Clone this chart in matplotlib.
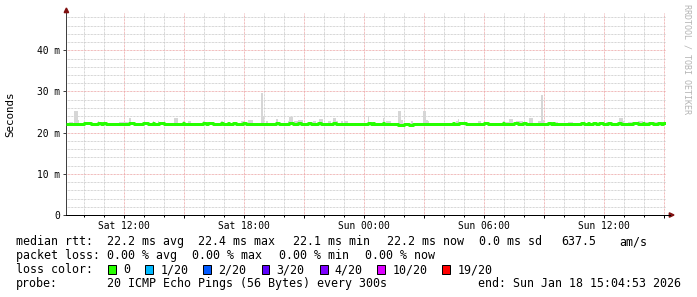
#!/usr/bin/env python3
# SmokePing style latency graph: median rtt (green = 0 loss) with smoke, 30 h at 300 s steps

import numpy as np
import pandas as pd
import matplotlib
matplotlib.use('Agg')
import matplotlib.pyplot as plt
import matplotlib.dates as mdates
from matplotlib.ticker import FixedLocator, MultipleLocator, FuncFormatter
from matplotlib.patches import Rectangle, Polygon
from matplotlib.lines import Line2D

plt.rcParams['font.family'] = ['DejaVu Sans Mono', 'DejaVu Sans']

# ---- values (milliseconds) ----
START = '2026-01-17 09:04:53'
N_STEPS = 360                      # 30 h of 5 min steps
median_base_ms = 22.2
median_high_ms = 22.4              # small green blips above the line
median_high_idx = [11, 12, 13, 14, 19, 20, 22, 23, 38, 39, 40, 46, 47, 48, 52, 56, 57, 58,
                   70, 82, 83, 85, 86, 87, 93, 97, 100, 101, 106, 107, 126, 127, 134, 135,
                   139, 140, 145, 146, 151, 152, 160, 161, 181, 182, 184, 190, 232, 236, 237,
                   238, 239, 251, 252, 262, 269, 270, 274, 275, 289, 290, 292, 309, 310, 313,
                   316, 317, 320, 321, 325, 326, 331, 332, 340, 341, 342, 346, 350, 351, 355,
                   356, 358, 359]
median_low_ms = 21.95
median_low_idx = [199, 200, 201, 202, 206, 207]

# smoke (max ping) per step, where it shows above the median line
smoke_idx = [2, 3, 5, 6, 7, 19, 32, 33, 34, 35, 36, 38, 52, 55, 65, 66, 70, 73, 74, 82, 93,
             105, 106, 109, 110, 111, 117, 118,
             120, 126, 133, 134, 135, 137, 138, 139, 140, 141, 148, 149, 152, 153, 157, 158,
             160, 161, 162, 165, 167, 168, 181, 190, 192, 193, 194, 199, 200, 201, 207, 214,
             215, 216, 217, 234, 235,
             247, 248, 262, 264, 265, 266, 267, 270, 271, 272, 273, 278, 279, 283, 284, 285,
             286, 292, 293, 294, 301, 302, 303, 324, 325, 332, 333, 334, 337, 338, 339, 343,
             344, 345, 348, 349, 350, 353, 354, 355]
smoke_top_ms = [22.6, 22.6, 25.3, 25.3, 23.0, 22.75, 22.6, 22.6, 22.6, 22.6, 22.6, 23.55, 22.75,
                22.75, 23.55, 23.55, 22.75, 22.8, 22.8, 22.75, 22.75, 22.75, 22.75, 23.0, 23.0,
                23.0, 29.6, 24.1,
                22.8, 23.3, 22.8, 23.9, 23.9, 22.8, 22.8, 23.0, 23.0, 23.0, 22.75, 22.75, 23.3,
                23.3, 22.8, 22.8, 23.55, 23.55, 22.8, 22.8, 22.75, 22.75, 24.0, 23.55, 22.8,
                22.8, 22.8, 25.3, 25.3, 23.1, 22.75, 25.3, 25.3, 23.1, 22.75, 22.8, 23.3,
                22.8, 22.8, 22.8, 22.6, 22.6, 23.3, 23.3, 22.75, 22.8, 22.8, 22.8, 23.55, 23.55,
                22.75, 22.75, 29.1, 23.0, 22.6, 22.6, 22.6, 22.6, 22.6, 22.6, 22.6, 22.6, 23.55,
                23.55, 22.75, 22.6, 22.6, 22.6, 22.75, 22.75, 22.75, 22.6, 22.6, 22.6, 22.6,
                22.6, 22.6]
low_smoke_idx = [246]
low_smoke_ms = [20.95]

Y_MAX = 49.05
y_major = [0, 10, 20, 30, 40]
y_labels = ['0', '10 m', '20 m', '30 m', '40 m']

rtt_stats = ['22.2 ms avg', '22.4 ms max', '22.1 ms min', '22.2 ms now', '0.0 ms sd', '637.5', 'am/s']
loss_stats = ['0.00 % avg', '0.00 % max', '0.00 % min', '0.00 % now']
loss_labels = ['0', '1/20', '2/20', '3/20', '4/20', '10/20', '19/20']
loss_colors = ['#26ff00', '#00b8ff', '#0059ff', '#5e00ff', '#7e00ff', '#dd00ff', '#ff0000']
probe_text = '20 ICMP Echo Pings (56 Bytes) every 300s'
end_text = 'end: Sun Jan 18 15:04:53 2026'

# ---- layout (pixels of the 697x297 image) ----
W, H = 697, 297
def fx(x):
    return x / W
def fy(y):
    return 1 - y / H

fig = plt.figure(figsize=(W / 100, H / 100), dpi=100)
fig.patch.set_facecolor('white')
ax = fig.add_axes([fx(66), fy(215), 600 / W, 202 / H])

t = mdates.date2num(pd.date_range(START, periods=N_STEPS + 1, freq='5min'))
step = t[1] - t[0]

median = np.full(N_STEPS, median_base_ms)
median[median_high_idx] = median_high_ms
median[median_low_idx] = median_low_ms

# smoke behind the median line
s_idx = np.array(smoke_idx)
ax.bar(t[s_idx], np.array(smoke_top_ms) - median[s_idx], bottom=median[s_idx], width=step,
       align='edge', color='#d6d6d6', linewidth=0, zorder=2)
l_idx = np.array(low_smoke_idx)
ax.bar(t[l_idx] + step * 0.3, median[l_idx] - np.array(low_smoke_ms), bottom=np.array(low_smoke_ms),
       width=step * 0.6, align='edge', color='#555555', linewidth=0, zorder=2)

ax.step(t, np.append(median, median[-1]), where='post', color=loss_colors[0],
        linewidth=2.16, solid_capstyle='butt', zorder=3)

ax.set_xlim(t[0], t[-1])
ax.set_ylim(0, Y_MAX)
ax.xaxis_date()

def hour_fmt(x, pos):
    d = mdates.num2date(x)
    return d.strftime('%a %H:%M') if d.hour % 6 == 0 else ''

ax.xaxis.set_major_locator(mdates.HourLocator(byhour=range(0, 24, 3)))
ax.xaxis.set_minor_locator(mdates.HourLocator())
ax.xaxis.set_major_formatter(FuncFormatter(hour_fmt))
ax.yaxis.set_major_locator(FixedLocator(y_major))
ax.yaxis.set_minor_locator(MultipleLocator(2))
ax.set_yticklabels(y_labels)

ax.set_axisbelow(True)
dots = (0, (0.72, 0.72))
ax.grid(which='minor', color='#c8c8c8', linestyle=dots, linewidth=0.72)
ax.grid(which='major', color='#eca3a3', linestyle=dots, linewidth=0.72)

ax.tick_params(axis='x', which='major', length=2.16, width=0.72, pad=2.3, labelsize=6.9, color='black')
ax.tick_params(axis='x', which='minor', length=1.44, width=0.72, color='black')
ax.tick_params(axis='y', which='major', length=2.16, width=0.72, pad=2.2, labelsize=6.9, color='#404040')
ax.tick_params(axis='y', which='minor', length=0)

for side in ['top', 'right']:
    ax.spines[side].set_visible(False)
ax.spines['left'].set_color('#404040')
ax.spines['left'].set_linewidth(0.72)
ax.spines['bottom'].set_color('black')
ax.spines['bottom'].set_linewidth(0.72)

ax.set_ylabel('Seconds', fontsize=7.8)
ax.yaxis.set_label_coords(fx(10.5) / (600 / W) - fx(66) / (600 / W), 0.5)
ax.yaxis.label.set_va('center')

# axis arrows
arrow_col = '#801010'
fig.add_artist(Line2D([fx(666), fx(670)], [fy(215), fy(215)], color='black', linewidth=0.72))
fig.add_artist(Polygon([(fx(669.3), fy(212.8)), (fx(669.3), fy(217.2)), (fx(674), fy(215))],
                       closed=True, color=arrow_col, transform=fig.transFigure))
fig.add_artist(Polygon([(fx(64.2), fy(12.6)), (fx(68.6), fy(12.6)), (fx(66.4), fy(8))],
                       closed=True, color=arrow_col, transform=fig.transFigure))

fig.text(fx(687), fy(59.5), 'RRDTOOL / TOBI OETIKER', rotation=270, ha='center', va='center',
         fontsize=6, color='#b4b4b4')

# legend block
LEG = 8.4
rows = [245.3, 259.3, 273.3, 287.3]
fig.text(fx(15.5), fy(rows[0]), 'median rtt:', fontsize=LEG, va='baseline')
for x, s in zip([107.3, 198.4, 293.3, 386.7, 479.3, 561.7, 619], rtt_stats):
    fig.text(fx(x), fy(rows[0]), s, fontsize=LEG, va='baseline')

fig.text(fx(15.5), fy(rows[1]), 'packet loss:', fontsize=LEG, va='baseline')
for x, s in zip([107.3, 192, 279.3, 365], loss_stats):
    fig.text(fx(x), fy(rows[1]), s, fontsize=LEG, va='baseline')

fig.text(fx(15.5), fy(rows[2]), 'loss color:', fontsize=LEG, va='baseline')
sq_x = [108.3, 145, 203, 261.7, 320, 377.3, 442.3]
lab_x = [123.3, 160.7, 218, 276, 334, 392.7, 457.3]
for sx, lx, lab, col in zip(sq_x, lab_x, loss_labels, loss_colors):
    fig.add_artist(Rectangle((fx(sx), fy(273.5)), 7.5 / W, 8.5 / H, transform=fig.transFigure,
                             facecolor=col, edgecolor='black', linewidth=0.72))
    fig.text(fx(lx), fy(rows[2]), lab, fontsize=LEG, va='baseline')

fig.text(fx(15.5), fy(rows[3]), 'probe:', fontsize=LEG, va='baseline')
fig.text(fx(107.3), fy(rows[3]), probe_text, fontsize=LEG, va='baseline')
fig.text(fx(478.3), fy(rows[3]), end_text, fontsize=LEG, va='baseline')

fig.savefig('out.png', dpi=100, facecolor='white')
